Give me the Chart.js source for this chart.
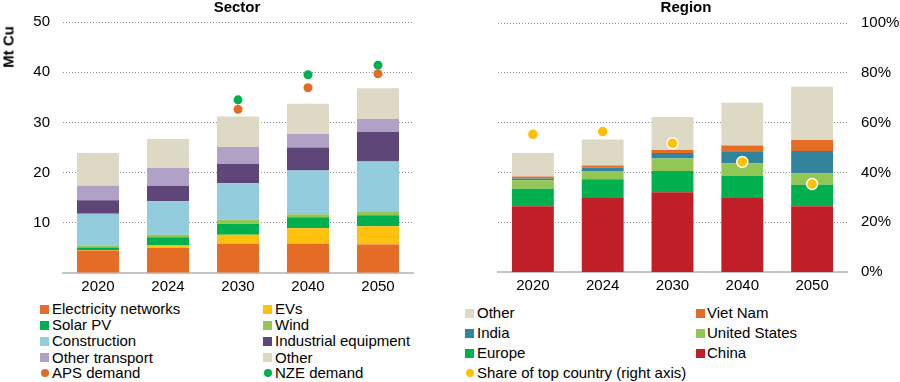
<!DOCTYPE html>
<html>
<head>
<meta charset="utf-8">
<script src="https://cdn.jsdelivr.net/npm/chart.js@4.4.1/dist/chart.umd.min.js"></script>
<style>
  html, body { margin:0; padding:0; background:#fff; }
  body { width:900px; height:382px; position:relative; overflow:hidden; font-family:"Liberation Sans", Arial, sans-serif; color:#000; }
  canvas { position:absolute; top:0; }
  .title { position:absolute; font-weight:bold; font-size:15px; line-height:15px; transform:translateX(-50%); white-space:nowrap; }
  .ylab { position:absolute; font-weight:bold; font-size:15px; white-space:nowrap; transform:translate(-50%,-50%) rotate(-90deg); }
  .leg { position:absolute; font-size:15px; height:18px; line-height:18px; white-space:nowrap; }
  .sw { position:absolute; width:9px; height:9px; }
  .dot { position:absolute; width:8px; height:8px; border-radius:50%; }
</style>
</head>
<body>
<canvas id="c1" width="450" height="295" style="left:0"></canvas>
<canvas id="c2" width="450" height="295" style="left:450px"></canvas>
<div class="title" style="left:237px;top:-1px">Sector</div>
<div class="title" style="left:686px;top:-1px">Region</div>
<div class="ylab" style="left:8px;top:47px">Mt Cu</div>
<div id="legends"></div>
<script>
// ---- Data ----
const years = ['2020', '2024', '2030', '2040', '2050'];

// Sector (Mt Cu)
const electricityNetworks = [4.5, 5.0, 5.8, 5.8, 5.7];
const evs                 = [0.1, 0.5, 1.8, 3.1, 3.6];
const solarPV             = [0.5, 1.6, 2.2, 2.2, 2.2];
const wind                = [0.4, 0.5, 0.8, 0.6, 0.8];
const construction        = [6.3, 6.7, 7.3, 8.7, 9.9];
const industrialEquipment = [2.7, 3.1, 3.8, 4.6, 5.9];
const otherTransport      = [2.9, 3.5, 3.4, 2.7, 2.6];
const otherSector         = [6.5, 5.8, 6.1, 6.0, 6.1];
const apsDemand           = [null, null, 32.6, 36.9, 39.7];
const nzeDemand           = [null, null, 34.5, 39.5, 41.4];

// Region (Mt Cu)
const china        = [13.2, 15.0, 16.0, 15.0, 13.2];
const europe       = [3.5, 3.6, 4.3, 4.3, 4.3];
const unitedStates = [1.7, 1.7, 2.5, 2.5, 2.3];
const india        = [0.4, 0.7, 1.1, 2.3, 4.5];
const vietNam      = [0.4, 0.4, 0.6, 1.3, 2.2];
const otherRegion  = [4.7, 5.2, 6.6, 8.6, 10.7];
const shareTop     = [0.553, 0.564, 0.517, 0.442, 0.353]; // right axis

const leftTicks  = [10, 20, 30, 40, 50];
const rightTicks = ['0%', '20%', '40%', '60%', '80%', '100%'];

// ---- Styles ----
const C = {
  elec:'#E46C25', evs:'#FFC10E', solar:'#00B04F', wind:'#92C755', constr:'#93CDDD',
  indus:'#5E4778', otrans:'#B2A1C7', other:'#DDD9C4', aps:'#E36C25', nze:'#00B050',
  viet:'#E46C25', india:'#31849B', us:'#92C755', europe:'#00B04F', china:'#C01F27', share:'#FFC000'
};
Chart.defaults.font.family = '"Liberation Sans", Arial, sans-serif';
Chart.defaults.font.size = 15;
Chart.defaults.color = '#000';

function bar(label, data, color) {
  return { type:'bar', label, data, backgroundColor:color, borderWidth:0, order:2,
           categoryPercentage:1, barPercentage:0.6, yAxisID:'y' };
}
function dots(label, data, color, axis, r, border) {
  return { type:'line', label, data, showLine:false, yAxisID:axis, order:0,
           pointRadius:r, pointHoverRadius:r, pointBackgroundColor:color,
           pointBorderColor: border ? '#fff' : color, pointBorderWidth: border ? 1.5 : 0,
           backgroundColor:color, borderColor:color };
}
const gridColor = ctx => (ctx.tick && ctx.tick.value === 0) ? 'rgba(0,0,0,0)' : '#8f8f8f';
const xScale = {
  stacked:true,
  grid:{ display:false, drawTicks:false },
  border:{ display:true, color:'#c4c4c4', width:2 },
  ticks:{ padding:5, color:'#000', font:{size:15} },
  afterFit: s => { s.height = 21; }
};

new Chart(document.getElementById('c1'), {
  data: {
    labels: years,
    datasets: [
      bar('Electricity networks', electricityNetworks, C.elec),
      bar('EVs', evs, C.evs),
      bar('Solar PV', solarPV, C.solar),
      bar('Wind', wind, C.wind),
      bar('Construction', construction, C.constr),
      bar('Industrial equipment', industrialEquipment, C.indus),
      bar('Other transport', otherTransport, C.otrans),
      bar('Other', otherSector, C.other),
      dots('APS demand', apsDemand, C.aps, 'yDots', 4.5, false),
      dots('NZE demand', nzeDemand, C.nze, 'yDots', 4.5, false)
    ]
  },
  options: {
    responsive:false, animation:false, devicePixelRatio:1,
    layout:{ padding:{ left:0, right:37, top:18, bottom:0 } },
    plugins:{ legend:{display:false}, tooltip:{enabled:false}, title:{display:false} },
    scales: {
      x: xScale,
      y: {
        stacked:true, min:0, max:50,
        afterBuildTicks: s => { s.ticks = [0].concat(leftTicks).map(v => ({value:v})); },
        ticks:{ padding:13, color:'#000', callback: v => v === 0 ? '' : String(v) },
        grid:{ color:gridColor, lineWidth:1, drawTicks:false },
        border:{ display:false, dash:[1,2] },
        afterFit: s => { s.width = 63; }
      },
      yDots: { display:false, min:0, max:50, stacked:false }
    }
  }
});

new Chart(document.getElementById('c2'), {
  data: {
    labels: years,
    datasets: [
      bar('China', china, C.china),
      bar('Europe', europe, C.europe),
      bar('United States', unitedStates, C.us),
      bar('India', india, C.india),
      bar('Viet Nam', vietNam, C.viet),
      bar('Other', otherRegion, C.other),
      dots('Share of top country (right axis)', shareTop, C.share, 'y1', 5.5, true)
    ]
  },
  options: {
    responsive:false, animation:false, devicePixelRatio:1,
    layout:{ padding:{ left:48, right:0, top:18, bottom:0 } },
    plugins:{ legend:{display:false}, tooltip:{enabled:false}, title:{display:false} },
    scales: {
      x: xScale,
      y: { display:false, stacked:true, min:0, max:50 },
      y1: {
        position:'right', min:0, max:1,
        afterBuildTicks: s => { s.ticks = rightTicks.map((t, i) => ({value: i * 0.2})); },
        ticks:{ padding:14, color:'#000', callback: (v, i) => rightTicks[i] },
        grid:{ color:gridColor, lineWidth:1, drawTicks:false },
        border:{ display:false, dash:[1,2] },
        afterFit: s => { s.width = 53; }
      }
    }
  }
});

// ---- HTML legends ----
const legendItems = [
  // [label, color, kind, swatchX, textX, centerY]
  ['Electricity networks', C.elec, 'sq', 40, 52, 309],
  ['EVs', C.evs, 'sq', 263, 275, 309],
  ['Solar PV', C.solar, 'sq', 40, 52, 325],
  ['Wind', C.wind, 'sq', 263, 275, 325],
  ['Construction', C.constr, 'sq', 40, 52, 341],
  ['Industrial equipment', C.indus, 'sq', 263, 275, 341],
  ['Other transport', C.otrans, 'sq', 40, 52, 357.5],
  ['Other', C.other, 'sq', 263, 275, 357.5],
  ['APS demand', C.aps, 'dot', 40, 52, 373],
  ['NZE demand', C.nze, 'dot', 263, 275, 373],
  ['Other', C.other, 'sq', 465, 477, 313],
  ['Viet Nam', C.viet, 'sq', 696, 707, 313],
  ['India', C.india, 'sq', 465, 477, 333],
  ['United States', C.us, 'sq', 696, 707, 333],
  ['Europe', C.europe, 'sq', 465, 477, 353],
  ['China', C.china, 'sq', 696, 707, 353],
  ['Share of top country (right axis)', C.share, 'dot', 465, 477, 373]
];
const host = document.getElementById('legends');
legendItems.forEach(([label, color, kind, sx, tx, cy]) => {
  const sw = document.createElement('div');
  sw.className = kind === 'sq' ? 'sw' : 'dot';
  sw.style.background = color;
  if (kind === 'sq') { sw.style.left = sx + 'px'; sw.style.top = (cy - 4.5) + 'px'; }
  else { sw.style.left = (sx + 0.5) + 'px'; sw.style.top = (cy - 4) + 'px'; }
  host.appendChild(sw);
  const t = document.createElement('div');
  t.className = 'leg';
  t.textContent = label;
  t.style.left = tx + 'px';
  t.style.top = (cy - 9) + 'px';
  host.appendChild(t);
});
</script>
</body>
</html>
